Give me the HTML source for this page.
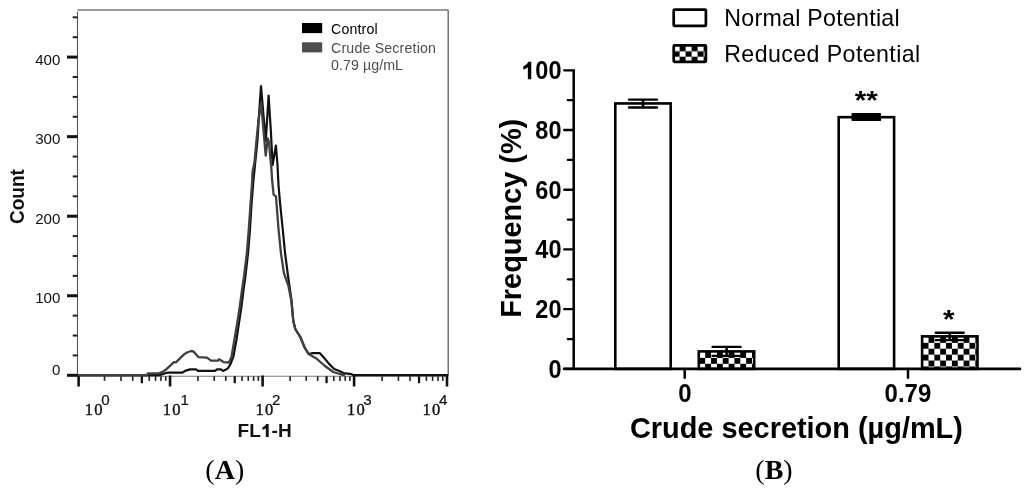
<!DOCTYPE html>
<html><head><meta charset="utf-8"><title>Figure</title><style>
html,body{margin:0;padding:0;background:#fff;width:1024px;height:489px;overflow:hidden}
svg{display:block;will-change:transform}
text{font-family:"Liberation Sans",sans-serif}
text.sf{font-family:"Liberation Serif",serif}
text.sm{font-family:"Liberation Mono",monospace}
</style></head><body>
<svg width="1024" height="489" viewBox="0 0 1024 489">
<line x1="77.5" y1="9.9" x2="448.2" y2="9.9" stroke="#7a7a7a" stroke-width="1.5"/>
<line x1="448.2" y1="9.9" x2="448.2" y2="376.2" stroke="#5e5e5e" stroke-width="1.3"/>
<line x1="77.5" y1="11.5" x2="77.5" y2="376.2" stroke="#555" stroke-width="1.1"/>
<line x1="77.5" y1="376.2" x2="448.2" y2="376.2" stroke="#777" stroke-width="1.1"/>
<line x1="72.7" y1="355.41" x2="77.5" y2="355.41" stroke="#222" stroke-width="2"/>
<line x1="72.7" y1="335.53" x2="77.5" y2="335.53" stroke="#222" stroke-width="2"/>
<line x1="72.7" y1="315.64" x2="77.5" y2="315.64" stroke="#222" stroke-width="2"/>
<line x1="72.7" y1="275.86" x2="77.5" y2="275.86" stroke="#222" stroke-width="2"/>
<line x1="72.7" y1="255.98" x2="77.5" y2="255.98" stroke="#222" stroke-width="2"/>
<line x1="72.7" y1="236.09" x2="77.5" y2="236.09" stroke="#222" stroke-width="2"/>
<line x1="72.7" y1="196.31" x2="77.5" y2="196.31" stroke="#222" stroke-width="2"/>
<line x1="72.7" y1="176.43" x2="77.5" y2="176.43" stroke="#222" stroke-width="2"/>
<line x1="72.7" y1="156.54" x2="77.5" y2="156.54" stroke="#222" stroke-width="2"/>
<line x1="72.7" y1="116.76" x2="77.5" y2="116.76" stroke="#222" stroke-width="2"/>
<line x1="72.7" y1="96.88" x2="77.5" y2="96.88" stroke="#222" stroke-width="2"/>
<line x1="72.7" y1="76.99" x2="77.5" y2="76.99" stroke="#222" stroke-width="2"/>
<line x1="72.7" y1="37.21" x2="77.5" y2="37.21" stroke="#222" stroke-width="2"/>
<line x1="72.7" y1="17.33" x2="77.5" y2="17.33" stroke="#222" stroke-width="2"/>
<line x1="67" y1="375.3" x2="77.5" y2="375.3" stroke="#111" stroke-width="3"/>
<line x1="67" y1="295.75" x2="77.5" y2="295.75" stroke="#111" stroke-width="3"/>
<line x1="67" y1="216.2" x2="77.5" y2="216.2" stroke="#111" stroke-width="3"/>
<line x1="67" y1="136.65" x2="77.5" y2="136.65" stroke="#111" stroke-width="3"/>
<line x1="67" y1="57.1" x2="77.5" y2="57.1" stroke="#111" stroke-width="3"/>
<text x="60.4" y="65.3" font-size="15.4" text-anchor="end" textLength="25.200000000000003" lengthAdjust="spacingAndGlyphs" fill="#111">400</text>
<text x="60.4" y="144" font-size="15.4" text-anchor="end" textLength="25.200000000000003" lengthAdjust="spacingAndGlyphs" fill="#111">300</text>
<text x="60.4" y="223.9" font-size="15.4" text-anchor="end" textLength="25.200000000000003" lengthAdjust="spacingAndGlyphs" fill="#111">200</text>
<text x="60.4" y="303.4" font-size="15.4" text-anchor="end" textLength="25.200000000000003" lengthAdjust="spacingAndGlyphs" fill="#111">100</text>
<text x="60.4" y="374.8" font-size="15.4" text-anchor="end" textLength="8.4" lengthAdjust="spacingAndGlyphs" fill="#111">0</text>
<text transform="translate(23.7,196.6) rotate(-90)" font-size="20.6" font-weight="bold" text-anchor="middle" textLength="55" lengthAdjust="spacingAndGlyphs" fill="#111">Count</text>
<line x1="104.52" y1="376.2" x2="104.52" y2="380.9" stroke="#222" stroke-width="1.6"/>
<line x1="121.03" y1="376.2" x2="121.03" y2="380.9" stroke="#222" stroke-width="1.6"/>
<line x1="132.74" y1="376.2" x2="132.74" y2="380.9" stroke="#222" stroke-width="1.6"/>
<line x1="141.83" y1="376.2" x2="141.83" y2="383.2" stroke="#111" stroke-width="2.3"/>
<line x1="149.25" y1="376.2" x2="149.25" y2="380.9" stroke="#222" stroke-width="1.6"/>
<line x1="155.53" y1="376.2" x2="155.53" y2="380.9" stroke="#222" stroke-width="1.6"/>
<line x1="160.96" y1="376.2" x2="160.96" y2="380.9" stroke="#222" stroke-width="1.6"/>
<line x1="165.76" y1="376.2" x2="165.76" y2="380.9" stroke="#222" stroke-width="1.6"/>
<line x1="197.91" y1="376.2" x2="197.91" y2="380.9" stroke="#222" stroke-width="1.6"/>
<line x1="214.21" y1="376.2" x2="214.21" y2="380.9" stroke="#222" stroke-width="1.6"/>
<line x1="225.77" y1="376.2" x2="225.77" y2="380.9" stroke="#222" stroke-width="1.6"/>
<line x1="234.74" y1="376.2" x2="234.74" y2="383.2" stroke="#111" stroke-width="2.3"/>
<line x1="242.07" y1="376.2" x2="242.07" y2="380.9" stroke="#222" stroke-width="1.6"/>
<line x1="248.26" y1="376.2" x2="248.26" y2="380.9" stroke="#222" stroke-width="1.6"/>
<line x1="253.63" y1="376.2" x2="253.63" y2="380.9" stroke="#222" stroke-width="1.6"/>
<line x1="258.37" y1="376.2" x2="258.37" y2="380.9" stroke="#222" stroke-width="1.6"/>
<line x1="290.14" y1="376.2" x2="290.14" y2="380.9" stroke="#222" stroke-width="1.6"/>
<line x1="306.26" y1="376.2" x2="306.26" y2="380.9" stroke="#222" stroke-width="1.6"/>
<line x1="317.69" y1="376.2" x2="317.69" y2="380.9" stroke="#222" stroke-width="1.6"/>
<line x1="326.56" y1="376.2" x2="326.56" y2="383.2" stroke="#111" stroke-width="2.3"/>
<line x1="333.8" y1="376.2" x2="333.8" y2="380.9" stroke="#222" stroke-width="1.6"/>
<line x1="339.93" y1="376.2" x2="339.93" y2="380.9" stroke="#222" stroke-width="1.6"/>
<line x1="345.23" y1="376.2" x2="345.23" y2="380.9" stroke="#222" stroke-width="1.6"/>
<line x1="349.91" y1="376.2" x2="349.91" y2="380.9" stroke="#222" stroke-width="1.6"/>
<line x1="382.07" y1="376.2" x2="382.07" y2="380.9" stroke="#222" stroke-width="1.6"/>
<line x1="398.42" y1="376.2" x2="398.42" y2="380.9" stroke="#222" stroke-width="1.6"/>
<line x1="410.03" y1="376.2" x2="410.03" y2="380.9" stroke="#222" stroke-width="1.6"/>
<line x1="419.03" y1="376.2" x2="419.03" y2="383.2" stroke="#111" stroke-width="2.3"/>
<line x1="426.39" y1="376.2" x2="426.39" y2="380.9" stroke="#222" stroke-width="1.6"/>
<line x1="432.61" y1="376.2" x2="432.61" y2="380.9" stroke="#222" stroke-width="1.6"/>
<line x1="438" y1="376.2" x2="438" y2="380.9" stroke="#222" stroke-width="1.6"/>
<line x1="442.75" y1="376.2" x2="442.75" y2="380.9" stroke="#222" stroke-width="1.6"/>
<line x1="78.6" y1="375.5" x2="78.6" y2="386.5" stroke="#111" stroke-width="2.6"/>
<line x1="170.05" y1="375.5" x2="170.05" y2="386.5" stroke="#111" stroke-width="2.6"/>
<line x1="262.6" y1="375.5" x2="262.6" y2="386.5" stroke="#111" stroke-width="2.6"/>
<line x1="354.1" y1="375.5" x2="354.1" y2="386.5" stroke="#111" stroke-width="2.6"/>
<line x1="447" y1="375.5" x2="447" y2="386.5" stroke="#111" stroke-width="2.6"/>
<text x="84.8" y="414.8" font-size="16.5" letter-spacing="1.3" class="sf" fill="#111" stroke="#111" stroke-width="0.4">10</text>
<text x="101.2" y="404.6" font-size="15.2" fill="#111" stroke="#111" stroke-width="0.2">0</text>
<text x="162.8" y="414.8" font-size="16.5" letter-spacing="1.3" class="sf" fill="#111" stroke="#111" stroke-width="0.4">10</text>
<text x="180.5" y="404.6" font-size="15.2" fill="#111" stroke="#111" stroke-width="0.2">1</text>
<text x="255.5" y="414.8" font-size="16.5" letter-spacing="1.3" class="sf" fill="#111" stroke="#111" stroke-width="0.4">10</text>
<text x="271.9" y="404.6" font-size="15.2" fill="#111" stroke="#111" stroke-width="0.2">2</text>
<text x="346.9" y="414.8" font-size="16.5" letter-spacing="1.3" class="sf" fill="#111" stroke="#111" stroke-width="0.4">10</text>
<text x="363.3" y="404.6" font-size="15.2" fill="#111" stroke="#111" stroke-width="0.2">3</text>
<text x="422.5" y="414.8" font-size="16.5" letter-spacing="1.3" class="sf" fill="#111" stroke="#111" stroke-width="0.4">10</text>
<text x="438.9" y="404.6" font-size="15.2" fill="#111" stroke="#111" stroke-width="0.2">4</text>
<text x="237.6" y="437" font-size="19" font-weight="bold" fill="#111">FL</text>
<path d="M266.19,424.1 L268.7,424.1 L268.7,437 L265.8,437 L265.8,428.15 C264.9,428.96 263.74,429.48 262.37,429.85 L262.37,427.49 C263.99,426.9 265.41,425.79 266.19,424.1 Z" fill="#111"/>
<text x="271.6" y="437" font-size="19" font-weight="bold" fill="#111">-H</text>
<rect x="302" y="23" width="20.2" height="10.1" fill="#000"/>
<rect x="302" y="42.3" width="20.2" height="10.1" fill="#4d4d4d"/>
<text x="331" y="33.6" font-size="14.2" textLength="46.7" lengthAdjust="spacing" fill="#000">Control</text>
<text x="331" y="52.6" font-size="14.2" textLength="105" lengthAdjust="spacing" fill="#4d4d4d">Crude Secretion</text>
<text x="331" y="70.1" font-size="14.2" textLength="72" lengthAdjust="spacing" fill="#4d4d4d">0.79 µg/mL</text>
<polyline points="78,375.2 159.5,375.2 161,374.6 166,373 168.2,372.6 182.5,372.6 185,370.9 190,369.4 196,369.4 198,370.9 215,370.9 217,369.4 221,369.4 223,370.9 226,369.4 228,368.3 230.5,364 233.5,356 236.5,339.5 239,322.8 241.5,306.4 243.5,290 245.2,278 248,253.6 250,229 251.5,204.5 253.5,180 255,165 257.5,140 259,115 261,86 263.2,112 265.8,141 268.6,95.6 270.8,130 272.6,165 275.9,145.5 277.5,165 278.5,185 280.2,204.5 282.7,229 285.1,253.6 288.3,278 291.5,300.5 293.3,321 295.3,329 300.5,337.3 304.6,347.5 308.6,354 312.7,353.2 319.9,353.2 324,357.7 329.1,363.9 334.2,369 339.3,371 343.4,373.1 351.6,374.1 353,375.2 448,375.2" fill="none" stroke="#111" stroke-width="2.2" stroke-linejoin="round"/>
<polyline points="78,375.2 146.8,375.2 147.8,373.4 159,373.4 162.6,371.9 165.7,369.8 173.9,362.2 175.9,362.4 184,354.4 187,352.5 191.1,351 193.5,351.5 198.3,357.1 207,357.6 211,360.7 218,360.7 219.2,359.1 223.8,362.2 229,362.5 231.5,357 234.5,339 237.3,322.8 239.8,306.4 242,290 243.8,278 246.8,253.6 248.8,229 250.5,204.5 252.2,181 252.5,172 254.5,162 256.5,140 258.5,120 261,103 263.5,130 265.7,155.7 267.8,138.5 269,142 270.5,160 271.3,167 272.1,180 273.6,194.7 276,196.5 278.5,229 281,253.6 283.9,273 288.3,285.5 291.3,300.5 293.3,321 295.3,329 300.5,337.3 304.6,347.5 308.6,354 316.8,358.8 325,366 333.2,372 341.4,374.5 345,375.2" fill="none" stroke="#404040" stroke-width="2.3" stroke-linejoin="round"/>
<text x="224.8" y="479.3" font-size="28" text-anchor="middle" class="sf" fill="#000">(<tspan font-weight="bold">A</tspan>)</text>
<rect x="615.3" y="103.44" width="55.4" height="265.46" fill="#fff" stroke="#000" stroke-width="2.6"/>
<pattern id="p1" patternUnits="userSpaceOnUse" width="11.7" height="11.8" x="699.35" y="352"><rect width="11.7" height="11.8" fill="#fff"/><rect x="5.85" y="0" width="5.85" height="5.9" fill="#000"/><rect x="0" y="5.9" width="5.85" height="5.9" fill="#000"/></pattern>
<rect x="698.8" y="351.4" width="55.4" height="17.5" fill="url(#p1)" stroke="#000" stroke-width="2.6"/>
<rect x="838.7" y="117.18" width="55.4" height="251.72" fill="#fff" stroke="#000" stroke-width="2.6"/>
<pattern id="p3" patternUnits="userSpaceOnUse" width="11.7" height="11.8" x="922.65" y="336.95"><rect width="11.7" height="11.8" fill="#fff"/><rect x="5.85" y="0" width="5.85" height="5.9" fill="#000"/><rect x="0" y="5.9" width="5.85" height="5.9" fill="#000"/></pattern>
<rect x="922.1" y="336.35" width="55.4" height="32.55" fill="url(#p3)" stroke="#000" stroke-width="2.6"/>
<line x1="643" y1="99.6" x2="643" y2="107.5" stroke="#000" stroke-width="2.5"/><line x1="629.05" y1="99.6" x2="656.95" y2="99.6" stroke="#000" stroke-width="2.4" stroke-linecap="round"/><line x1="629.05" y1="107.5" x2="656.95" y2="107.5" stroke="#000" stroke-width="2.4" stroke-linecap="round"/>
<line x1="726.6" y1="346.9" x2="726.6" y2="355.9" stroke="#000" stroke-width="2.5"/><line x1="712.65" y1="346.9" x2="740.55" y2="346.9" stroke="#000" stroke-width="2.4" stroke-linecap="round"/><line x1="712.65" y1="355.9" x2="740.55" y2="355.9" stroke="#000" stroke-width="2.4" stroke-linecap="round"/>
<rect x="851.5" y="112.9" width="29.6" height="8.2" rx="1.2" fill="#000"/>
<line x1="949.7" y1="332.7" x2="949.7" y2="340.1" stroke="#000" stroke-width="2.5"/><line x1="935.75" y1="332.7" x2="963.65" y2="332.7" stroke="#000" stroke-width="2.4" stroke-linecap="round"/><line x1="935.75" y1="340.1" x2="963.65" y2="340.1" stroke="#000" stroke-width="2.4" stroke-linecap="round"/>
<line x1="573.7" y1="69.8" x2="573.7" y2="370.1" stroke="#000" stroke-width="2.5"/>
<line x1="564" y1="368.9" x2="1020" y2="368.9" stroke="#000" stroke-width="2.6" stroke-linecap="round"/>
<line x1="564.2" y1="368.9" x2="574" y2="368.9" stroke="#000" stroke-width="2.3" stroke-linecap="round"/>
<text transform="translate(561.5,377.9) scale(0.94,1)" font-size="25" font-weight="bold" text-anchor="end" fill="#000">0</text>
<line x1="564.2" y1="309.18" x2="574" y2="309.18" stroke="#000" stroke-width="2.3" stroke-linecap="round"/>
<text transform="translate(561.5,318.18) scale(0.94,1)" font-size="25" font-weight="bold" text-anchor="end" fill="#000">20</text>
<line x1="564.2" y1="249.46" x2="574" y2="249.46" stroke="#000" stroke-width="2.3" stroke-linecap="round"/>
<text transform="translate(561.5,258.46) scale(0.94,1)" font-size="25" font-weight="bold" text-anchor="end" fill="#000">40</text>
<line x1="564.2" y1="189.74" x2="574" y2="189.74" stroke="#000" stroke-width="2.3" stroke-linecap="round"/>
<text transform="translate(561.5,198.74) scale(0.94,1)" font-size="25" font-weight="bold" text-anchor="end" fill="#000">60</text>
<line x1="564.2" y1="130.02" x2="574" y2="130.02" stroke="#000" stroke-width="2.3" stroke-linecap="round"/>
<text transform="translate(561.5,139.02) scale(0.94,1)" font-size="25" font-weight="bold" text-anchor="end" fill="#000">80</text>
<line x1="564.2" y1="70.3" x2="574" y2="70.3" stroke="#000" stroke-width="2.3" stroke-linecap="round"/>
<text transform="translate(561.5,79.3) scale(0.94,1)" font-size="25" font-weight="bold" text-anchor="end" fill="#000">00</text>
<path d="M528.38,61.8 L531.25,61.8 L531.25,79.3 L527.85,79.3 L527.85,67.3 C526.62,68.4 525.05,69.1 523.2,69.6 L523.2,66.4 C525.4,65.6 527.33,64.09 528.38,61.8 Z" fill="#000"/>
<line x1="567.8" y1="339.04" x2="574" y2="339.04" stroke="#000" stroke-width="2.2" stroke-linecap="round"/>
<line x1="567.8" y1="279.32" x2="574" y2="279.32" stroke="#000" stroke-width="2.2" stroke-linecap="round"/>
<line x1="567.8" y1="219.6" x2="574" y2="219.6" stroke="#000" stroke-width="2.2" stroke-linecap="round"/>
<line x1="567.8" y1="159.88" x2="574" y2="159.88" stroke="#000" stroke-width="2.2" stroke-linecap="round"/>
<line x1="567.8" y1="100.16" x2="574" y2="100.16" stroke="#000" stroke-width="2.2" stroke-linecap="round"/>
<line x1="684.7" y1="369" x2="684.7" y2="377.8" stroke="#000" stroke-width="2.5" stroke-linecap="round"/>
<line x1="908.0" y1="369" x2="908.0" y2="377.8" stroke="#000" stroke-width="2.5" stroke-linecap="round"/>
<text transform="translate(684.8,401.5) scale(0.94,1)" font-size="25.5" font-weight="bold" text-anchor="middle" fill="#000">0</text>
<text transform="translate(907.9,401.8) scale(0.94,1)" font-size="25.5" font-weight="bold" text-anchor="middle" fill="#000">0.79</text>
<text x="796.4" y="437.6" font-size="29.6" font-weight="bold" text-anchor="middle" textLength="333" lengthAdjust="spacingAndGlyphs" fill="#000">Crude secretion (µg/mL)</text>
<text transform="translate(521.2,218.3) rotate(-90)" font-size="29.8" font-weight="bold" text-anchor="middle" textLength="199" lengthAdjust="spacingAndGlyphs" fill="#000">Frequency (%)</text>
<text x="866.2" y="108.5" font-size="25" font-weight="bold" text-anchor="middle" textLength="23" lengthAdjust="spacingAndGlyphs" fill="#000">**</text>
<text x="948.7" y="327.9" font-size="25" font-weight="bold" text-anchor="middle" textLength="11.5" lengthAdjust="spacingAndGlyphs" fill="#000">*</text>
<rect x="673.7" y="9.6" width="32.2" height="16.3" rx="1" fill="#fff" stroke="#000" stroke-width="2.7"/>
<pattern id="pl" patternUnits="userSpaceOnUse" width="12" height="10.8" x="673.6" y="45.9"><rect width="12" height="10.8" fill="#fff"/><rect x="6" y="0" width="6" height="5.4" fill="#000"/><rect x="0" y="5.4" width="6" height="5.4" fill="#000"/></pattern>
<rect x="673.7" y="45.3" width="32.2" height="16.5" rx="1" fill="url(#pl)" stroke="#000" stroke-width="2.7"/>
<text x="724.2" y="26.2" font-size="23.2" textLength="175.5" lengthAdjust="spacing" fill="#000">Normal Potential</text>
<text x="724.2" y="61.6" font-size="23.2" textLength="196" lengthAdjust="spacing" fill="#000">Reduced Potential</text>
<text x="774" y="479.3" font-size="28" text-anchor="middle" class="sf" fill="#000">(<tspan font-weight="bold">B</tspan>)</text>
</svg>
</body></html>
